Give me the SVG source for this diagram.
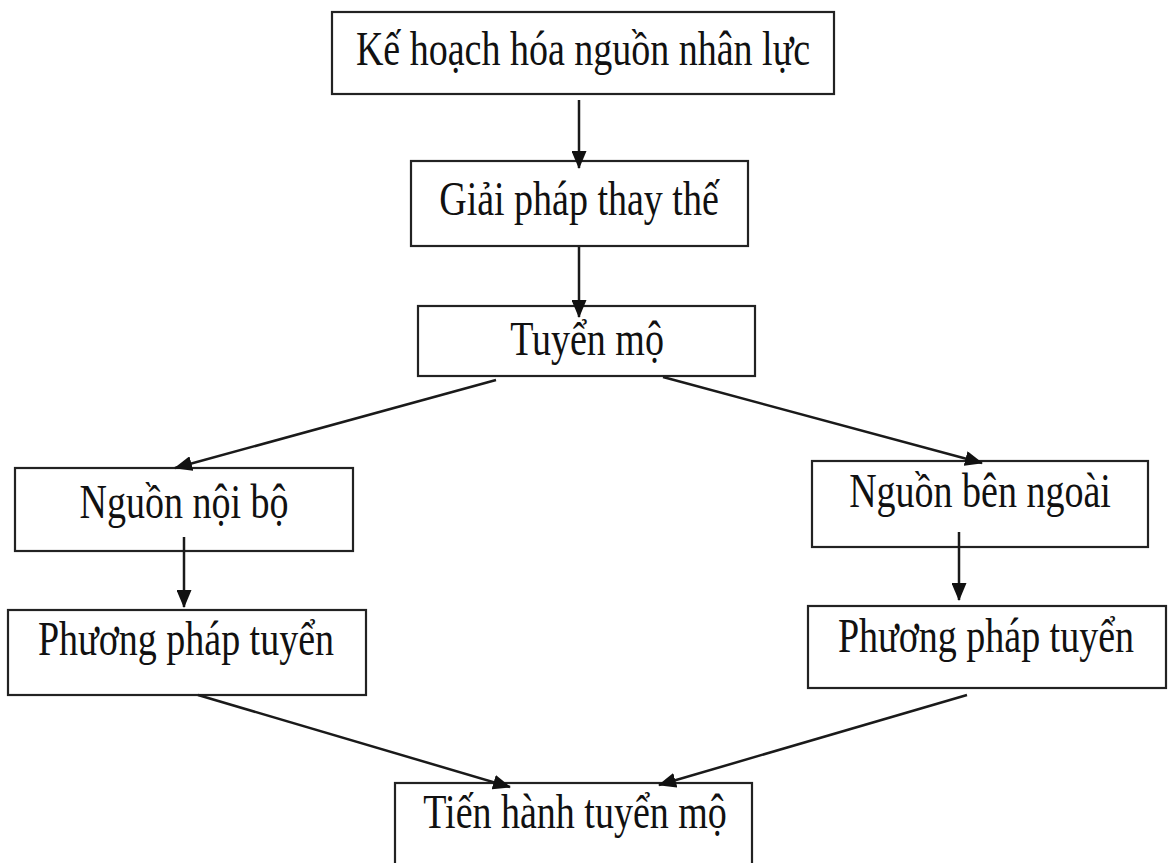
<svg xmlns="http://www.w3.org/2000/svg" width="1168" height="863" viewBox="0 0 1168 863">
<style>
.box{fill:#fff;stroke:#222;stroke-width:2.2}
.lbl{font-family:"Liberation Serif","Times New Roman",serif;font-size:38px;fill:#111;text-anchor:middle}
.con{stroke:#1a1a1a;stroke-width:2.5;fill:none;marker-end:url(#ah)}
</style>
<defs>
<marker id="ah" markerUnits="userSpaceOnUse" markerWidth="18" markerHeight="15" refX="17" refY="7.5" orient="auto">
<path d="M0,0 L18,7.5 L0,15 z" fill="#111"/>
</marker>
</defs>
<rect width="1168" height="863" fill="#fff"/>
<g id="n1"><rect class="box" x="332" y="12" width="502" height="82"/><text class="lbl" transform="translate(583,65) scale(1,1.25)">Kế hoạch hóa nguồn nhân lực</text></g>
<g id="n2"><rect class="box" x="411" y="161" width="337" height="85"/><text class="lbl" transform="translate(579,215) scale(1,1.25)">Giải pháp thay thế</text></g>
<g id="n3"><rect class="box" x="418" y="306" width="337" height="70"/><text class="lbl" transform="translate(587,355) scale(1,1.25)">Tuyển mộ</text></g>
<g id="n4"><rect class="box" x="15" y="468" width="338" height="83"/><text class="lbl" transform="translate(184,518) scale(1,1.25)">Nguồn nội bộ</text></g>
<g id="n5"><rect class="box" x="8" y="610" width="358" height="85"/><text class="lbl" transform="translate(186,655) scale(1,1.25)">Phương pháp tuyển</text></g>
<g id="n6"><rect class="box" x="812" y="461" width="336" height="86"/><text class="lbl" transform="translate(980,507) scale(1,1.25)">Nguồn bên ngoài</text></g>
<g id="n7"><rect class="box" x="808" y="606" width="358" height="82"/><text class="lbl" transform="translate(986,652) scale(1,1.25)">Phương pháp tuyển</text></g>
<g id="n8"><rect class="box" x="395" y="783" width="357" height="100"/><text class="lbl" transform="translate(575,828) scale(1,1.25)">Tiến hành tuyển mộ</text></g>
<g id="connectors">
<line class="con" x1="579" y1="100" x2="579" y2="168"/>
<line class="con" x1="579" y1="247" x2="579" y2="317"/>
<line class="con" x1="496" y1="380" x2="175" y2="468"/>
<line class="con" x1="663" y1="377" x2="982" y2="463"/>
<line class="con" x1="184" y1="537" x2="184" y2="607"/>
<line class="con" x1="959" y1="532" x2="959" y2="600"/>
<line class="con" x1="198" y1="695" x2="510" y2="787"/>
<line class="con" x1="967" y1="695" x2="659" y2="785"/>
</g>
</svg>
